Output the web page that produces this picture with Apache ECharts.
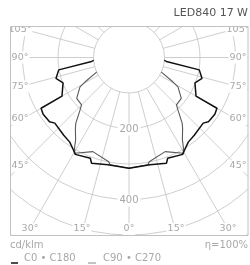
<!DOCTYPE html>
<html>
<head>
<meta charset="utf-8">
<script src="https://cdn.jsdelivr.net/npm/echarts@6/dist/echarts.min.js"></script>
<style>
  html, body { margin: 0; padding: 0; background: #fff; }
  #chart { width: 250px; height: 265px; }
</style>
</head>
<body>
<div id="chart"></div>
<script>
// gamma angles (deg) and intensities (cd/klm), half plane
var c0Gamma = [90, 84, 80, 74, 69, 60, 60, 56.5, 51, 48.5, 40, 35, 31, 29, 21, 19.5, 11, 0];
var c0Values = [82, 106, 201, 214, 199, 218, 286, 290, 288, 279, 286, 291, 304, 312, 304, 316, 308, 312];
var c90Gamma = [66, 61, 59, 52, 45, 43, 39, 37, 33, 31, 29.5, 21, 11, 10, 0];
var c90Values = [99, 141, 161, 187, 189, 202, 238, 251, 276, 298, 310, 284, 299, 307, 312];

var degLabels = ['105°', '90°', '75°', '60°', '45°'];
var bottomLabels = ['30°', '15°', '0°', '15°', '30°'];
var ringLabels = ['200', '400'];

// left half uses angle = gamma, right half uses angle = 360 - gamma
function curve(gamma, values) {
  var pts = [[0, 180]];
  for (var i = 0; i < gamma.length; i++) pts.push([values[i], gamma[i]]);
  for (var j = gamma.length - 1; j >= 0; j--) pts.push([values[j], 360 - gamma[j]]);
  pts.push([0, 180]);
  return pts;
}

var chart = echarts.init(document.getElementById('chart'));

var cx = 129, cy = 57.5;
var gridColor = '#c2c2c2';
var labelColor = '#a8a8a8';
var font = '"DejaVu Sans", sans-serif';

var leftY = [30, 57.5, 86.5, 119, 166];
var bottomX = [30, 82, 129, 176, 228];

var graphics = [
  // masks outside the frame
  { type: 'rect', shape: { x: 0, y: 0, width: 250, height: 26.5 }, style: { fill: '#fff' }, z: 50 },
  { type: 'rect', shape: { x: 0, y: 236, width: 250, height: 29 }, style: { fill: '#fff' }, z: 50 },
  { type: 'rect', shape: { x: 0, y: 0, width: 10, height: 265 }, style: { fill: '#fff' }, z: 50 },
  { type: 'rect', shape: { x: 248.5, y: 0, width: 2, height: 265 }, style: { fill: '#fff' }, z: 50 },
  { type: 'rect', shape: { x: 10.5, y: 26.5, width: 237.5, height: 209 }, style: { fill: null, stroke: gridColor, lineWidth: 1 }, z: 51 },
  // title and footer
  { type: 'text', right: 2, top: 8, style: { text: 'LED840 17 W', fill: '#555', font: '11px ' + font }, z: 60 },
  { type: 'text', left: 10, top: 240, style: { text: 'cd/klm', fill: labelColor, font: '10px ' + font }, z: 60 },
  { type: 'text', right: 2, top: 240, style: { text: 'η=100%', fill: labelColor, font: '10px ' + font }, z: 60 },
  { type: 'line', shape: { x1: 11, y1: 263, x2: 18, y2: 263 }, style: { stroke: '#111', lineWidth: 1.5 }, z: 60 },
  { type: 'text', left: 24, top: 253, style: { text: 'C0 • C180', fill: labelColor, font: '10px ' + font }, z: 60 },
  { type: 'line', shape: { x1: 88, y1: 263, x2: 96, y2: 263 }, style: { stroke: '#888', lineWidth: 1 }, z: 60 },
  { type: 'text', left: 103, top: 253, style: { text: 'C90 • C270', fill: labelColor, font: '10px ' + font }, z: 60 }
];

degLabels.forEach(function (t, i) {
  [20, 238].forEach(function (x) {
    graphics.push({
      type: 'text', x: x, y: leftY[i], z: 40,
      style: { text: t, fill: labelColor, font: '9.5px ' + font, align: 'center', verticalAlign: 'middle',
               backgroundColor: '#fff', padding: [1, 1] }
    });
  });
});
bottomLabels.forEach(function (t, i) {
  graphics.push({
    type: 'text', x: bottomX[i], y: 229, z: 40,
    style: { text: t, fill: labelColor, font: '9.5px ' + font, align: 'center', verticalAlign: 'middle',
             backgroundColor: '#fff', padding: [1, 1] }
  });
});
ringLabels.forEach(function (t, i) {
  graphics.push({
    type: 'text', x: cx, y: [129.5, 200.5][i], z: 40,
    style: { text: t, fill: labelColor, font: '10px ' + font, align: 'center', verticalAlign: 'middle',
             backgroundColor: '#fff', padding: [1, 2] }
  });
});

chart.setOption({
  animation: false,
  polar: { center: [cx, cy], radius: [35.5, 213] },
  angleAxis: {
    type: 'value', min: 0, max: 360, interval: 15, startAngle: 270, clockwise: true,
    axisLine: { show: false }, axisTick: { show: false }, axisLabel: { show: false },
    splitLine: { show: true, lineStyle: { color: gridColor, width: 0.8 } }
  },
  radiusAxis: {
    type: 'value', min: 100, max: 600, interval: 100,
    axisLine: { show: false }, axisTick: { show: false }, axisLabel: { show: false },
    splitLine: { show: true, lineStyle: { color: gridColor, width: 0.8 } }
  },
  series: [
    {
      name: 'C90 • C270', type: 'line', coordinateSystem: 'polar', clip: false,
      data: curve(c90Gamma, c90Values), showSymbol: false,
      lineStyle: { color: '#5a5a5a', width: 1.1 }, z: 3
    },
    {
      name: 'C0 • C180', type: 'line', coordinateSystem: 'polar', clip: false,
      data: curve(c0Gamma, c0Values), showSymbol: false,
      lineStyle: { color: '#111', width: 1.5 }, z: 4
    }
  ],
  graphic: graphics
});
</script>
</body>
</html>
